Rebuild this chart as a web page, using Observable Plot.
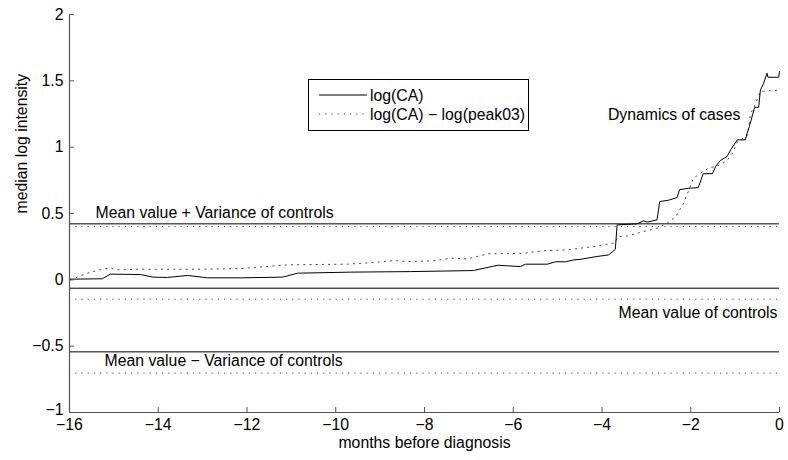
<!DOCTYPE html>
<html>
<head>
<meta charset="utf-8">
<script src="https://cdn.jsdelivr.net/npm/d3@7"></script>
<script src="https://cdn.jsdelivr.net/npm/@observablehq/plot@0.6"></script>
<style>
  body { margin: 0; background: #fff; }
  #chart { width: 788px; height: 460px; }
</style>
</head>
<body>
<div id="chart"></div>
<script>
// Median log intensity of cases, by months before diagnosis
const monthsCA = [-15.98, -15.26, -15.08, -14.40, -14.11, -13.79, -13.34, -12.89, -12.15, -11.25, -11.18, -10.86,
  -9.67, -8.32, -6.90, -6.35, -5.84, -5.72, -5.23, -5.05, -4.82, -4.64, -4.48, -4.11, -3.85, -3.70, -3.66,
  -3.21, -3.06, -2.98, -2.76, -2.70, -2.50, -2.31, -2.25, -2.05, -1.83, -1.72, -1.51, -1.44, -1.33, -1.18,
  -1.10, -0.95, -0.77, -0.73, -0.68, -0.56, -0.47, -0.43, -0.36, -0.28, -0.26, -0.02, 0];
const logCA = [0.005, 0.008, 0.043, 0.040, 0.020, 0.018, 0.033, 0.015, 0.015, 0.020, 0.022, 0.050,
  0.058, 0.062, 0.070, 0.110, 0.100, 0.118, 0.118, 0.136, 0.136, 0.150, 0.155, 0.176, 0.188, 0.230, 0.414,
  0.422, 0.445, 0.435, 0.452, 0.590, 0.600, 0.620, 0.680, 0.690, 0.695, 0.800, 0.800, 0.855, 0.900, 0.930,
  0.980, 1.055, 1.055, 1.105, 1.155, 1.300, 1.300, 1.430, 1.480, 1.557, 1.527, 1.527, 1.570];

const monthsPeak = [-15.98, -15.60, -15.46, -15.23, -15.08, -14.92, -14.40, -13.05, -12.15, -11.09, -9.74,
  -9.06, -8.70, -8.38, -7.80, -7.41, -7.03, -6.58, -5.77, -5.32, -4.78, -4.60, -4.19, -3.70, -3.65, -3.43,
  -3.06, -2.75, -2.53, -2.34, -2.16, -1.94, -1.78, -1.60, -1.33, -1.17, -1.06, -0.95, -0.72, -0.65, -0.58,
  -0.48, -0.43, -0.02];
const logPeak = [0.000, 0.050, 0.063, 0.083, 0.088, 0.075, 0.080, 0.080, 0.085, 0.113, 0.118,
  0.133, 0.145, 0.138, 0.143, 0.163, 0.158, 0.196, 0.200, 0.220, 0.226, 0.234, 0.250, 0.280, 0.326, 0.330,
  0.364, 0.390, 0.427, 0.477, 0.578, 0.766, 0.804, 0.842, 0.867, 0.904, 0.955, 1.040, 1.090, 1.256, 1.294,
  1.380, 1.420, 1.430];

// Control group reference levels: mean + variance, mean, mean − variance
const controlLabels = ["Mean value + Variance of controls", "Mean value of controls", "Mean value \u2212 Variance of controls"];
const controlsCA = [0.422, -0.063, -0.543];
const controlsPeak = [0.402, -0.146, -0.703];

const seriesNames = ["log(CA)", "log(CA) \u2212 log(peak03)"];
const casesLabel = ["Dynamics of cases"];
const casesLabelX = [-0.88];
const casesLabelY = [1.24];

const xTicks = [-16, -14, -12, -10, -8, -6, -4, -2, 0];
const yTicks = [-1, -0.5, 0, 0.5, 1, 1.5, 2];

const caRows = monthsCA.map((m, i) => ({month: m, value: logCA[i]}));
const peakRows = monthsPeak.map((m, i) => ({month: m, value: logPeak[i]}));

const font = "'Liberation Sans', Arial, Helvetica, sans-serif";
const fs = 15.8;
const dots = "1.2,5";
const axisGray = "#555";
const tickFormat = (d) => (d < 0 ? "\u2212" : "") + Math.abs(d);
const yMin = yTicks[0];

const chart = Plot.plot({
  width: 788,
  height: 460,
  marginLeft: 69,
  marginRight: 9,
  marginTop: 14,
  marginBottom: 48,
  style: {fontFamily: font, fontSize: fs + "px", color: "#000", background: "#fff"},
  x: {domain: [-16, 0]},
  y: {domain: [-1, 2]},
  marks: [
    // control reference levels
    Plot.ruleY(controlsCA, {stroke: "#000", strokeWidth: 1}),
    Plot.ruleY(controlsPeak, {stroke: "#444", strokeWidth: 1, strokeDasharray: dots}),
    // case trajectories
    Plot.line(peakRows, {x: "month", y: "value", stroke: "#444", strokeWidth: 1, strokeDasharray: dots}),
    Plot.line(caRows, {x: "month", y: "value", stroke: "#000", strokeWidth: 1}),
    // spines
    Plot.ruleX([-16], {stroke: axisGray, strokeWidth: 1.2}),
    Plot.ruleY([-1], {stroke: axisGray, strokeWidth: 1.2}),
    Plot.axisX({ticks: xTicks, tickFormat, tickSize: -5, tickPadding: 11, stroke: axisGray, fontSize: fs, label: null}),
    Plot.axisY({ticks: yTicks.filter((t) => t !== yMin), tickFormat, tickSize: -5, tickPadding: 11, stroke: axisGray, fontSize: fs, label: null}),
    // lowest y label nudged up so it clears the x labels at the corner
    Plot.axisY({ticks: [yMin], tickFormat, tickSize: 0, tickPadding: 6, dy: -3, fontSize: fs, label: null}),
    // axis titles
    Plot.text(["months before diagnosis"], {frameAnchor: "bottom", dy: 35, fontSize: fs, fill: "#000"}),
    Plot.text(["median log intensity"], {frameAnchor: "left", dx: -48, rotate: -90, fontSize: fs, fill: "#000"}),
    // annotations tied to the control levels
    Plot.text([controlLabels[0]], {x: -16, y: controlsCA[0], dx: 26, dy: -11, textAnchor: "start", fontSize: fs, fill: "#000"}),
    Plot.text([controlLabels[1]], {x: 0, y: controlsCA[1], dx: -2, dy: 25, textAnchor: "end", fontSize: fs, fill: "#000"}),
    Plot.text([controlLabels[2]], {x: -16, y: controlsCA[2], dx: 35, dy: 9, textAnchor: "start", fontSize: fs, fill: "#000"}),
    Plot.text(casesLabel, {x: casesLabelX, y: casesLabelY, textAnchor: "end", fontSize: fs, fill: "#000"})
  ]
});

document.getElementById("chart").appendChild(chart);

// Legend box inside the plot area
const svg = d3.select(chart);
const lg = svg.append("g").attr("font-family", font).attr("font-size", fs).attr("text-anchor", "start");
lg.append("rect").attr("x", 308.5).attr("y", 79.5).attr("width", 220).attr("height", 51)
  .attr("fill", "#fff").attr("stroke", "#000").attr("stroke-width", 1);
const rowsY = [95, 114];
seriesNames.forEach((name, i) => {
  lg.append("line").attr("x1", 319).attr("x2", 367).attr("y1", rowsY[i]).attr("y2", rowsY[i])
    .attr("stroke", i === 0 ? "#000" : "#444").attr("stroke-width", 1)
    .attr("stroke-dasharray", i === 0 ? null : dots);
  lg.append("text").attr("x", 370).attr("y", rowsY[i]).attr("dy", "0.35em").attr("fill", "#000").text(name);
});
</script>
</body>
</html>
